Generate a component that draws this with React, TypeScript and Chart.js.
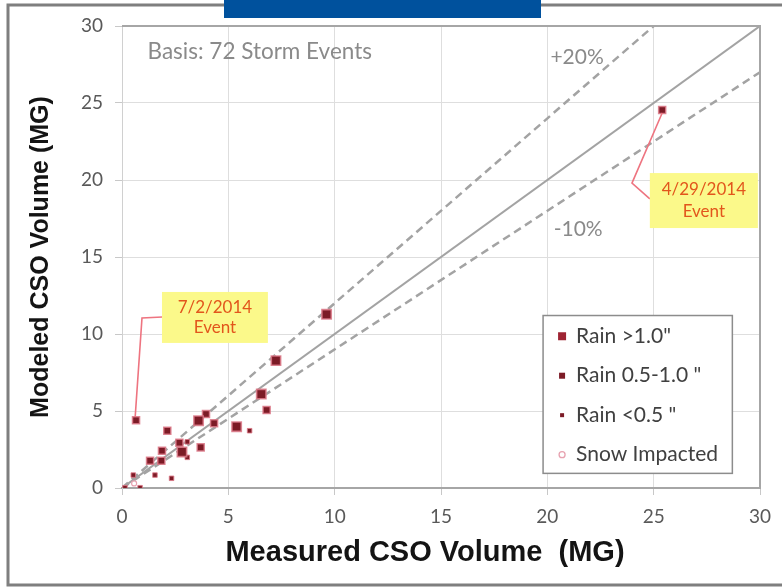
import React, { useEffect, useRef } from "react";
import { Chart, registerables } from "chart.js";
Chart.register(...registerables);

// ---- data (MG) ----
const axisMin = 0;
const axisMax = 30;
const tickStep = 5;

const rainOver1X = [6.55, 3.6, 5.39, 2.82, 9.62, 7.24];
const rainOver1Y = [6.1, 4.37, 3.98, 2.34, 11.28, 8.27];

const rainMidX = [0.66, 6.8, 3.95, 4.33, 2.13, 2.7, 1.88, 3.7, 1.32, 1.85, 25.4];
const rainMidY = [4.4, 5.06, 4.8, 4.2, 3.72, 2.94, 2.42, 2.64, 1.77, 1.77, 24.55];

const rainUnderX = [6.0, 3.07, 3.07, 1.55, 0.53, 2.33, 0.14, 0.85];
const rainUnderY = [3.72, 3.0, 1.99, 0.84, 0.84, 0.63, 0.02, 0.02];

const snowX = [0.57];
const snowY = [0.3];

const equalLineX = [0, 30];
const equalLineY = [0, 30];
const plus20X = [0, 25];
const plus20Y = [0, 30];
const minus10X = [0, 30];
const minus10Y = [0, 27];

const legendLabels = ['Rain >1.0"', 'Rain 0.5-1.0 "', 'Rain <0.5 "', "Snow Impacted"];

const basisText = "Basis: 72 Storm Events";
const basisPos = [1.2, 28.3];
const bandLabels = ["+20%", "-10%"];
const bandLabelPos = [
  [21.4, 28.0],
  [21.45, 16.8],
];

const annotationLines = [
  ["7/2/2014", "Event"],
  ["4/29/2014", "Event"],
];
// box: [x1, y1(top), x2, y2(bottom)] in data units
const annotationBoxes = [
  [1.88, 12.73, 6.86, 9.42],
  [24.82, 20.45, 29.9, 16.88],
];
const annotationLeaders = [
  [
    [1.9, 11.1],
    [0.94, 11.04],
    [0.62, 4.62],
  ],
  [
    [25.4, 24.35],
    [23.98, 19.8],
    [24.82, 18.77],
  ],
];

const xTitle = "Measured CSO Volume  (MG)";
const yTitle = "Modeled CSO Volume (MG)";

const toPts = (xs: number[], ys: number[]) => xs.map((x, i) => ({ x, y: ys[i] }));

const DARK_RED = "#7c1b26";
const HALO = "rgba(220,120,135,0.85)";
const TICK_FONT = "Lato";

const decorPlugin = {
  id: "decor",
  beforeDraw(chart: any) {
    const ctx = chart.ctx;
    ctx.save();
    ctx.fillStyle = "#ffffff";
    ctx.fillRect(0, 0, chart.width, chart.height);
    ctx.restore();
  },
  afterDatasetsDraw(chart: any) {
    const ctx = chart.ctx;
    const sx = chart.scales.x;
    const sy = chart.scales.y;
    const px = (v: number) => sx.getPixelForValue(v);
    const py = (v: number) => sy.getPixelForValue(v);
    ctx.save();

    // texts in plot
    ctx.fillStyle = "#8a8a8a";
    ctx.font = `22.5px ${TICK_FONT}`;
    ctx.textBaseline = "middle";
    ctx.textAlign = "left";
    ctx.fillText(basisText, px(basisPos[0]), py(basisPos[1]));
    ctx.textAlign = "center";
    ctx.font = `21px ${TICK_FONT}`;
    bandLabels.forEach((t, i) => {
      ctx.fillText(t, px(bandLabelPos[i][0]), py(bandLabelPos[i][1]));
    });

    // annotations
    annotationBoxes.forEach((b, i) => {
      const x1 = px(b[0]);
      const y1 = py(b[1]);
      const x2 = px(b[2]);
      const y2 = py(b[3]);
      ctx.strokeStyle = "#ee7480";
      ctx.lineWidth = 1.6;
      ctx.beginPath();
      annotationLeaders[i].forEach((p, j) => {
        const X = px(p[0]);
        const Y = py(p[1]);
        if (j === 0) ctx.moveTo(X, Y);
        else ctx.lineTo(X, Y);
      });
      ctx.stroke();
      ctx.fillStyle = "#fbf98a";
      ctx.fillRect(x1, y1, x2 - x1, y2 - y1);
      ctx.fillStyle = "#e2561c";
      ctx.font = `17px ${TICK_FONT}`;
      ctx.textAlign = "center";
      ctx.textBaseline = "middle";
      const cx = (x1 + x2) / 2;
      const h = y2 - y1;
      ctx.fillText(annotationLines[i][0], cx, y1 + h * 0.3);
      ctx.fillText(annotationLines[i][1], cx, y1 + h * 0.7);
    });

    // legend
    const lx1 = px(19.8);
    const ly1 = py(11.2);
    const lx2 = px(28.7);
    const ly2 = py(0.95);
    ctx.fillStyle = "#ffffff";
    ctx.fillRect(lx1, ly1, lx2 - lx1, ly2 - ly1);
    ctx.strokeStyle = "#8c8c8c";
    ctx.lineWidth = 1.5;
    ctx.strokeRect(lx1, ly1, lx2 - lx1, ly2 - ly1);
    const rowH = (ly2 - ly1) / 4;
    const sizes = [8, 6, 4, 6];
    legendLabels.forEach((t, i) => {
      const cy = ly1 + rowH * (i + 0.5) + 1;
      const mx = lx1 + 19;
      const s = sizes[i];
      if (i < 3) {
        ctx.fillStyle = i === 0 ? "#9e2433" : DARK_RED;
        ctx.fillRect(mx - s / 2, cy - s / 2, s, s);
      } else {
        ctx.strokeStyle = "#e7a2b0";
        ctx.lineWidth = 1.3;
        ctx.beginPath();
        ctx.arc(mx, cy, 3, 0, Math.PI * 2);
        ctx.stroke();
      }
      ctx.fillStyle = "#404040";
      ctx.font = `21px ${TICK_FONT}`;
      ctx.textAlign = "left";
      ctx.textBaseline = "middle";
      ctx.fillText(t, mx + 14, cy);
    });
    ctx.restore();
  },
  afterDraw(chart: any) {
    const ctx = chart.ctx;
    const a = chart.chartArea;
    ctx.save();
    ctx.strokeStyle = "#a6a6a6";
    ctx.lineWidth = 2;
    ctx.beginPath();
    ctx.moveTo(a.left, a.top);
    ctx.lineTo(a.right, a.top);
    ctx.lineTo(a.right, a.bottom);
    ctx.stroke();

    ctx.fillStyle = "#141414";
    ctx.font = 'bold 29px "Liberation Sans"';
    ctx.textAlign = "center";
    ctx.textBaseline = "middle";
    ctx.fillText(xTitle, (a.left + a.right) / 2 - 16, 553);

    ctx.strokeStyle = "#7f7f7f";
    ctx.lineWidth = 3;
    ctx.beginPath();
    ctx.moveTo(chart.width, 5);
    ctx.lineTo(8, 5);
    ctx.lineTo(8, 585);
    ctx.lineTo(chart.width, 585);
    ctx.stroke();

    ctx.fillStyle = "#00519d";
    ctx.fillRect(224, 0, 317, 18);
    ctx.restore();
  },
};

export default function App() {
  const ref = useRef<HTMLCanvasElement | null>(null);
  useEffect(() => {
    if (!ref.current) return;
    const chart = new Chart(ref.current, {
      type: "scatter",
      data: {
        datasets: [
          {
            label: legendLabels[0],
            data: toPts(rainOver1X, rainOver1Y),
            pointStyle: "rect",
            pointRadius: 6.6,
            backgroundColor: DARK_RED,
            borderColor: HALO,
            borderWidth: 1.6,
          },
          {
            label: legendLabels[1],
            data: toPts(rainMidX, rainMidY),
            pointStyle: "rect",
            pointRadius: 5,
            backgroundColor: DARK_RED,
            borderColor: HALO,
            borderWidth: 1.5,
          },
          {
            label: legendLabels[2],
            data: toPts(rainUnderX, rainUnderY),
            pointStyle: "rect",
            pointRadius: 3.2,
            backgroundColor: DARK_RED,
            borderColor: HALO,
            borderWidth: 1,
          },
          {
            label: legendLabels[3],
            data: toPts(snowX, snowY),
            pointStyle: "circle",
            pointRadius: 2.5,
            backgroundColor: "#ffffff",
            borderColor: "#e7a2b0",
            borderWidth: 1.2,
          },
          {
            label: "1:1",
            data: toPts(equalLineX, equalLineY),
            showLine: true,
            pointRadius: 0,
            borderColor: "#a3a3a3",
            borderWidth: 2,
          },
          {
            label: "+20%",
            data: toPts(plus20X, plus20Y),
            showLine: true,
            pointRadius: 0,
            borderColor: "#a3a3a3",
            borderWidth: 2.5,
            borderDash: [8, 5],
          },
          {
            label: "-10%",
            data: toPts(minus10X, minus10Y),
            showLine: true,
            pointRadius: 0,
            borderColor: "#a3a3a3",
            borderWidth: 2.5,
            borderDash: [8, 5],
          },
        ],
      },
      options: {
        responsive: false,
        animation: false,
        layout: { padding: { left: 10, top: 26, right: 22, bottom: 19 } },
        plugins: {
          legend: { display: false },
          tooltip: { enabled: false },
        },
        scales: {
          x: {
            type: "linear",
            min: axisMin,
            max: axisMax,
            afterFit: (s: any) => {
              s.height = 80;
            },
            ticks: {
              stepSize: tickStep,
              padding: 10,
              color: "#595959",
              font: { family: TICK_FONT, size: 19 },
            },
            grid: { color: "#dedede", tickLength: 7, tickColor: "#c8c8c8", lineWidth: 1 },
            border: { color: "#a6a6a6", width: 2 },
          },
          y: {
            type: "linear",
            min: axisMin,
            max: axisMax,
            afterFit: (s: any) => {
              s.width = 112;
            },
            ticks: {
              stepSize: tickStep,
              padding: 12,
              color: "#595959",
              font: { family: TICK_FONT, size: 19 },
            },
            grid: { color: "#dedede", tickLength: 7, tickColor: "#c8c8c8", lineWidth: 1 },
            border: { color: "#d0d0d0", width: 1 },
            title: {
              display: true,
              text: yTitle,
              color: "#141414",
              font: { family: "Liberation Sans", size: 25, weight: "bold", lineHeight: 1.2 },
              padding: { top: 16, bottom: 0 },
            },
          },
        },
      },
      plugins: [decorPlugin],
    } as any);
    return () => chart.destroy();
  }, []);
  return (
    <div style={{ position: "absolute", left: 0, top: 0, width: 782, height: 587 }}>
      <canvas ref={ref} width={782} height={587} style={{ width: 782, height: 587, display: "block" }} />
    </div>
  );
}
